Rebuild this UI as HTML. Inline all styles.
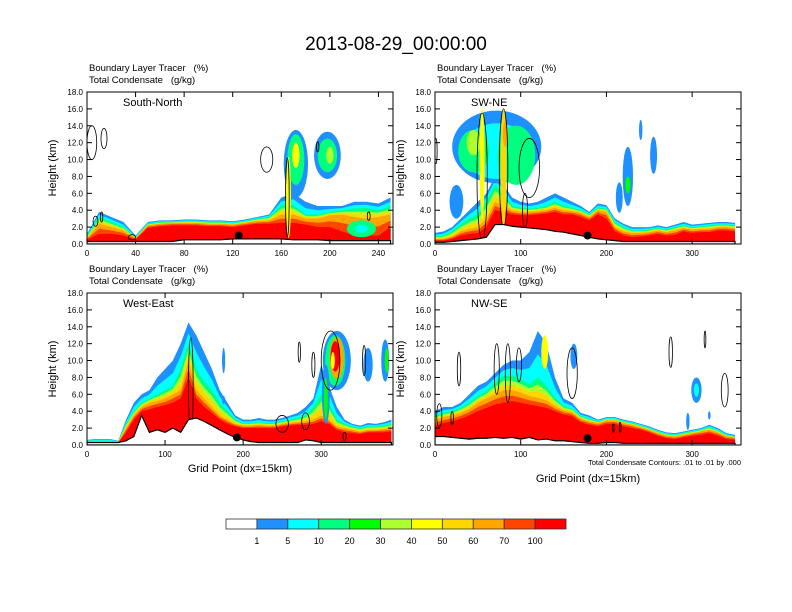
<!DOCTYPE html>
<html><head><meta charset="utf-8"><style>
html,body{margin:0;padding:0;background:#fff;}
svg{display:block;font-family:"Liberation Sans",sans-serif;}
text{white-space:pre;}
</style></head><body>
<svg id="fig" width="792" height="612" viewBox="0 0 792 612" xmlns="http://www.w3.org/2000/svg">
<rect width="792" height="612" fill="#fff"/>
<text x="396" y="50" font-size="19" text-anchor="middle">2013-08-29_00:00:00</text>
</svg>
<script>
// ---- data ----
const colorLevels = ["1","5","10","20","30","40","50","60","70","100"];
const colorFill = ["#ffffff","#1e90ff","#00ffff","#00ff7f","#00ff00","#adff2f","#ffff00","#ffd700","#ffa500","#ff4500","#ff0000"];

const tlGrid = [0,10,20,30,40,50,60,70,80,90,100,110,120,130,140,150,160,170,180,190,200,210,220,230,240,250];
const tlTerrain = [0.3,0.3,0.3,0.3,0.3,0.3,0.3,0.3,0.5,0.5,0.5,0.5,0.6,0.6,0.6,0.6,0.6,0.5,0.5,0.5,0.4,0.4,0.4,0.4,0.4,0.4];
const tlBlue = [1.2,3.8,3.2,2.6,1.0,2.6,2.8,2.8,2.9,2.9,2.8,2.8,2.7,2.9,3.2,3.5,5.5,6.0,5.0,4.5,4.5,4.5,5.0,5.0,4.8,5.5];
const tlGreen = [0.9,3.2,2.6,2.0,0.8,2.4,2.6,2.6,2.7,2.7,2.6,2.6,2.5,2.7,3.0,3.2,4.6,4.6,3.5,3.5,3.8,4.0,4.2,4.3,4.0,4.5];
const tlOrange = [0.7,2.4,2.0,1.6,0.7,2.2,2.4,2.5,2.5,2.5,2.4,2.4,2.3,2.5,2.7,2.8,3.5,3.5,3.0,3.0,3.4,3.5,3.2,3.0,3.2,3.5];
const tlRed = [0.5,1.2,1.2,1.0,0.5,1.9,2.1,2.2,2.2,2.2,2.1,2.1,2.0,2.2,2.4,2.4,2.5,2.5,2.3,2.0,2.0,1.5,1.0,1.0,1.0,2.0];
const tlBlobs = [[172,9.5,10,4,1],[172,10,7,3,3],[172,10.5,3,1.5,6],[198,10.5,11,2.8,1],[198,10.5,8,2,3],[200,10.5,3,1,5],[166,5.5,2,4.8,6],[226,1.8,12,1,3],[226,1.8,5,0.5,2]];
const tlContours = [[4,12,4,2],[14,12.5,2.5,1.2],[148,10,5,1.5],[190,11.5,1,0.6],[232,3.3,1.2,0.5],[7,2.7,2,0.6],[12,3.2,1,0.6],[37,0.8,3,0.3],[165,5.5,1.5,4.7]];
const tlDot = [125,1.0];

const trGrid = [0,10,20,30,40,50,60,70,80,90,100,110,120,130,140,150,160,170,180,190,200,210,220,230,240,250,260,270,280,290,300,310,320,330,340,350];
const trTerrain = [0.2,0.2,0.3,0.4,0.5,0.6,0.8,2.3,2.3,2.1,2.0,1.9,1.8,1.7,1.5,1.4,1.2,1.0,0.8,0.6,0.5,0.4,0.3,0.3,0.3,0.3,0.3,0.3,0.3,0.3,0.3,0.3,0.3,0.3,0.3,0.3];
const trBlue = [1.3,1.5,2.0,3.0,4.0,5.0,6.0,8.0,7.0,5.5,5.0,4.8,5.0,5.5,6.0,5.5,5.0,4.5,3.8,4.8,4.6,3.0,2.4,2.0,2.0,2.0,2.2,2.0,2.3,2.6,2.3,2.4,2.5,2.6,2.6,2.5];
const trGreen = [0.9,1.0,1.5,2.3,3.0,3.5,5.0,7.0,6.0,4.5,4.3,4.2,4.3,4.5,5.0,4.5,4.3,4.0,3.5,4.3,4.2,2.6,2.0,1.6,1.6,1.7,1.9,1.7,2.0,2.2,2.0,2.1,2.2,2.3,2.3,2.2];
const trOrange = [0.6,0.6,0.9,1.5,1.8,2.0,3.0,5.0,4.5,4.0,3.8,3.8,3.9,4.0,4.3,4.0,3.9,3.7,3.2,4.0,3.8,2.0,1.5,1.3,1.3,1.4,1.6,1.4,1.6,1.9,1.7,1.8,1.8,2.0,2.0,1.9];
const trRed = [0.4,0.4,0.6,1.0,1.2,1.3,2.0,4.0,3.8,3.5,3.4,3.4,3.5,3.6,3.8,3.5,3.5,3.2,2.8,3.5,3.0,1.5,1.0,0.8,0.9,1.0,1.2,1.0,1.1,1.5,1.3,1.4,1.4,1.6,1.6,1.5];
const trBlobs = [[72,11.5,52,4.3,1],[72,11,40,3.3,2],[45,11,18,2.5,3],[95,10.5,22,3.5,3],[45,12,8,1.5,5],[55,9.5,3,6.5,6],[80,9,3.5,7,7],[82,13,3,1.5,8],[225,8,6,3.5,1],[225,7,3,1,4],[255,10.5,4,2.2,1],[215,5.5,4,1.8,1],[240,13.5,2,1.2,1],[25,5,8,2,1]];
const trContours = [[1,11,1.5,1.5],[55,8,6,7.5],[80,9,5,7],[110,9,12,3.5],[105,4,3,2]];
const trDot = [178,1.0];

const blGrid = [0,10,20,30,40,50,60,70,80,90,100,110,120,130,140,150,160,170,180,190,200,210,220,230,240,250,260,270,280,290,300,310,320,330,340,350,360,370,380,390];
const blTerrain = [0.3,0.3,0.3,0.3,0.3,0.5,1.0,3.5,1.5,1.8,1.5,2.0,1.5,3.0,3.2,2.8,2.3,1.8,1.3,0.9,0.6,0.4,0.3,0.3,0.3,0.3,0.3,0.3,0.6,0.5,0.3,0.3,0.3,0.3,0.3,0.3,0.3,0.3,0.3,0.3];
const blBlue = [0.6,0.7,0.7,0.7,0.5,3.0,5.0,6.0,6.5,8.0,9.0,10.0,12.0,14.5,13.0,11.0,9.0,6.5,5.0,3.5,3.0,3.0,3.2,3.0,3.0,3.2,3.5,3.8,4.5,5.5,9.5,7.0,4.5,3.0,2.5,2.3,2.6,2.5,2.7,3.0];
const blGreen = [0.5,0.5,0.5,0.5,0.4,2.5,4.0,5.0,5.5,6.0,6.5,7.0,9.0,12.0,9.0,7.5,6.5,5.0,4.0,3.0,2.6,2.6,2.7,2.6,2.6,2.8,3.0,3.2,3.5,4.5,6.0,5.0,3.0,2.5,2.2,2.0,2.2,2.2,2.3,2.5];
const blOrange = [0.4,0.4,0.4,0.4,0.3,2.0,3.5,4.5,5.0,5.2,5.5,6.0,6.5,10.0,6.5,5.5,4.5,3.5,3.0,2.5,2.3,2.3,2.4,2.3,2.3,2.5,2.6,2.7,2.8,3.0,3.5,3.0,2.2,2.0,1.8,1.6,1.8,1.8,1.9,2.0];
const blRed = [0.3,0.3,0.3,0.3,0.3,1.5,3.0,4.0,4.2,4.5,4.7,5.0,5.5,8.0,5.5,4.5,3.8,3.0,2.5,2.2,2.0,2.0,2.0,2.0,2.0,2.2,2.3,2.4,2.4,2.5,2.8,2.5,1.8,1.5,1.4,1.3,1.5,1.5,1.5,1.6];
const blBlobs = [[320,10,18,3.5,1],[318,10,13,3,3],[320,10.3,9,2.5,8],[318,10.5,6,1.8,10],[315,10,2.5,1,6],[360,9.5,6,2,1],[382,10,5,2.5,1],[384,10,2.5,1.5,4],[175,10,2,1.5,1],[175,5.3,2,0.5,1],[306,6,5,3.5,1],[306,5.5,2.5,2.5,4]];
const blContours = [[312,10,12,3.5],[272,11,1.5,1.2],[290,9.5,2,1.5],[355,10,2,1.8],[250,2.5,8,1],[280,2.8,5,1],[330,1.0,2,0.5],[133,7,3,5.7]];
const blDot = [192,0.9];

const brGrid = [0,10,20,30,40,50,60,70,80,90,100,110,120,130,140,150,160,170,180,190,200,210,220,230,240,250,260,270,280,290,300,310,320,330,340,350];
const brTerrain = [1.0,1.0,0.9,0.8,0.7,0.8,0.8,0.9,0.8,0.9,0.7,0.9,0.6,0.7,0.5,0.5,0.4,0.3,0.2,0.2,0.3,0.3,0.2,0.2,0.2,0.2,0.2,0.2,0.2,0.2,0.2,0.2,0.2,0.2,0.2,0.2];
const brBlue = [4.0,4.5,4.5,5.0,6.0,7.0,7.5,8.5,9.5,10.0,10.0,11.0,13.5,12.0,8.0,5.5,5.0,3.8,3.5,3.0,3.3,3.3,3.0,2.8,2.5,2.2,1.8,1.5,1.4,1.6,1.8,2.0,2.4,2.0,1.4,1.2];
const brGreen = [3.4,3.8,4.0,4.4,5.0,5.8,6.4,7.4,8.2,8.2,7.8,7.2,8.0,7.0,5.6,4.6,4.3,3.4,3.1,2.8,3.1,3.1,2.8,2.6,2.3,2.0,1.6,1.3,1.2,1.4,1.6,1.8,2.1,1.7,1.2,1.0];
const brOrange = [3.0,3.3,3.5,3.8,4.3,5.0,5.5,6.0,6.5,6.5,6.2,5.8,5.6,5.3,4.6,4.1,3.9,3.1,2.8,2.6,2.9,2.9,2.6,2.4,2.1,1.8,1.4,1.1,1.0,1.2,1.4,1.6,1.8,1.5,1.0,0.9];
const brRed = [2.3,2.6,2.8,3.1,3.5,4.0,4.4,4.8,5.0,5.2,5.0,4.8,4.6,4.4,4.0,3.6,3.4,2.7,2.4,2.2,2.5,2.5,2.2,2.0,1.8,1.5,1.1,0.8,0.7,0.9,1.1,1.2,1.4,1.1,0.7,0.6];
const brBlobs = [[162,10.5,4,1.5,1],[305,6.5,6,1.5,1],[305,6.5,3,0.8,2],[295,2.8,2,1,1],[320,3.5,1.5,0.5,1],[128,11,4,2,6]];
const brContours = [[28,9,2,2],[72,9,3,3],[85,8.5,3,3.5],[98,9.5,3,2],[160,8.5,6,3],[5,3.5,3,1.4],[20,3.2,1.5,0.8],[275,11,2,1.8],[315,12.5,1,1],[338,6.5,4,2],[208,2.0,1,0.5],[216,2.1,1,0.6]];
const brDot = [178,0.8];

// ---- rendering ----
const NS = "http://www.w3.org/2000/svg";
const svg = document.getElementById("fig");
function mk(tag, attrs, parent){const e=document.createElementNS(NS,tag);for(const k in attrs)e.setAttribute(k,attrs[k]);(parent||svg).appendChild(e);return e;}

function panel(id, px, py, xmax, grid, terrain, layers, blobs, contours, dot, xticks, title, showXTitle, xTitleY){
  const W=306, H=152;
  const sx = v => px + v / xmax * W;
  const sy = v => py + H - v / 18 * H;
  const g = mk("g", {});
  
  
  const clipId = id + "-clip";
  const cp = mk("clipPath", {id: clipId}, g);
  mk("rect", {x:px, y:py, width:W, height:H}, cp);
  const plot = mk("g", {"clip-path": "url(#" + clipId + ")"}, g);
  function band(top, color, name){
    let d = "M" + sx(grid[0]) + "," + sy(terrain[0]);
    for (let i=0;i<grid.length;i++) d += "L" + sx(grid[i]) + "," + sy(Math.max(top[i], terrain[i]));
    for (let i=grid.length-1;i>=0;i--) d += "L" + sx(grid[i]) + "," + sy(terrain[i]);
    const p = mk("path", {d: d + "Z", fill: color}, plot);
    
    
  }
  const mid = (a,b,f) => a.map((v,i)=> v - (v - b[i]) * f);
  band(layers[0], "#1e90ff", "tracer-band-1");
  band(mid(layers[0],layers[1],0.5), "#00ffff", "tracer-band-5");
  band(layers[1], "#00ff7f", "tracer-band-20");
  band(mid(layers[1],layers[2],0.35), "#adff2f", "tracer-band-40");
  band(mid(layers[1],layers[2],0.65), "#ffd700", "tracer-band-50");
  band(layers[2], "#ffa500", "tracer-band-60");
  band(mid(layers[2],layers[3],0.5), "#ff4500", "tracer-band-70");
  band(layers[3], "#ff0000", "tracer-band-100");
  blobs.forEach(b=>{
    const e = mk("ellipse", {cx: sx(b[0]), cy: sy(b[1]), rx: b[2]/xmax*W, ry: b[3]/18*H, fill: colorFill[b[4]]}, plot);
    
    
  });
  contours.forEach(c=>{
    const e = mk("ellipse", {cx: sx(c[0]), cy: sy(c[1]), rx: c[2]/xmax*W, ry: c[3]/18*H, fill: "none", stroke: "#000", "stroke-width": 0.8}, plot);
    
    
  });
  let td = "M" + sx(grid[0]) + "," + sy(terrain[0]);
  for (let i=1;i<grid.length;i++) td += "L" + sx(grid[i]) + "," + sy(terrain[i]);
  td += "L" + sx(grid[grid.length-1]) + "," + (py+H) + "L" + px + "," + (py+H) + "Z";
  const tp = mk("path", {d: td, fill: "#fff", stroke: "#000", "stroke-width": 1.2}, plot);
  
  
  const dt = mk("circle", {cx: sx(dot[0]), cy: sy(dot[1]), r: 4, fill: "#000"}, plot);
  
  
  const fr = mk("rect", {x:px, y:py, width:W, height:H, fill:"none", stroke:"#000", "stroke-width":1}, g);
  
  
  for (let v=0; v<=18; v+=2){
    const y = sy(v);
    mk("line", {x1:px, x2:px+5, y1:y, y2:y, stroke:"#000"}, g);
    mk("line", {x1:px+W-5, x2:px+W, y1:y, y2:y, stroke:"#000"}, g);
    const t = mk("text", {x:px-4, y:y+3, "font-size":8, "text-anchor":"end"}, g);
    t.textContent = v.toFixed(1);
    
    
  }
  xticks.forEach(v=>{
    const x = sx(v);
    mk("line", {x1:x, x2:x, y1:py+H, y2:py+H-5, stroke:"#000"}, g);
    mk("line", {x1:x, x2:x, y1:py, y2:py+5, stroke:"#000"}, g);
    const t = mk("text", {x:x, y:py+H+12, "font-size":8, "text-anchor":"middle"}, g);
    t.textContent = v;
    
    
  });
  const yl = mk("text", {x:0, y:0, "font-size":11, "text-anchor":"middle", transform:"translate(" + (px-31) + "," + (py+H/2) + ") rotate(-90)"}, g);
  yl.textContent = "Height (km)";
  
  
  const h1 = mk("text", {x:px+2, y:py-21, "font-size":9.5}, g);
  h1.textContent = "Boundary Layer Tracer   (%)";
  
  
  const h2 = mk("text", {x:px+2, y:py-9, "font-size":9.5}, g);
  h2.textContent = "Total Condensate   (g/kg)";
  
  
  const ti = mk("text", {x:px+36, y:py+14, "font-size":11}, g);
  ti.textContent = title;
  
  
  if (showXTitle){
    const xt = mk("text", {x:px+W/2, y:xTitleY, "font-size":11, "text-anchor":"middle"}, g);
    xt.textContent = "Grid Point (dx=15km)";
    
    
  }
}

panel("panel-south-north", 87, 92, 252, tlGrid, tlTerrain, [tlBlue,tlGreen,tlOrange,tlRed], tlBlobs, tlContours, tlDot, [0,40,80,120,160,200,240], "South-North", false, 0);
panel("panel-sw-ne", 435, 92, 357, trGrid, trTerrain, [trBlue,trGreen,trOrange,trRed], trBlobs, trContours, trDot, [0,100,200,300], "SW-NE", false, 0);
panel("panel-west-east", 87, 293, 392, blGrid, blTerrain, [blBlue,blGreen,blOrange,blRed], blBlobs, blContours, blDot, [0,100,200,300], "West-East", true, 472);
panel("panel-nw-se", 435, 293, 357, brGrid, brTerrain, [brBlue,brGreen,brOrange,brRed], brBlobs, brContours, brDot, [0,100,200,300], "NW-SE", true, 482);

const note = mk("text", {x:741, y:465, "font-size":7.5, "text-anchor":"end"});
note.textContent = "Total Condensate Contours: .01 to .01 by .000";



const cb = mk("g", {});


const cbX = 226, cbY = 519, cbW = 340/11, cbH = 10;
colorFill.forEach((c,i)=>{
  const r = mk("rect", {x: cbX + i*cbW, y: cbY, width: cbW, height: cbH, fill: c, stroke: "#333", "stroke-width": 0.8}, cb);
  
  
});
colorLevels.forEach((l,i)=>{
  const t = mk("text", {x: cbX + (i+1)*cbW, y: cbY + 25, "font-size": 9, "text-anchor": "middle"}, cb);
  t.textContent = l;
  
  
});
</script>
</body></html>
